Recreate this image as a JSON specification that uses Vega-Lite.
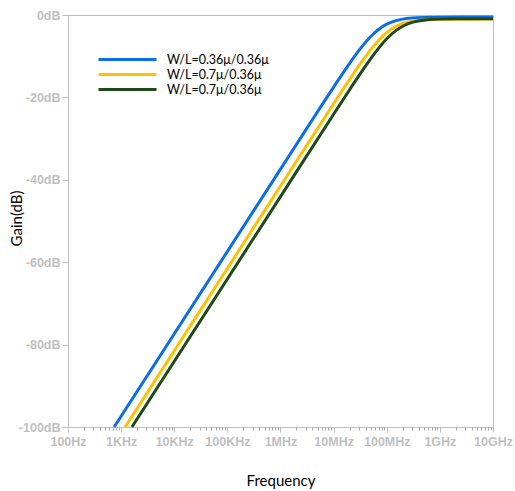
{
  "$schema": "https://vega.github.io/schema/vega-lite/v6.json",
  "width": 425,
  "height": 412,
  "autosize": {"type": "none"},
  "padding": {"left": 68, "top": 15, "right": 22, "bottom": 64},
  "background": "white",
  "config": {
    "view": {"stroke": "#BFBFBF", "strokeWidth": 1},
    "font": "Lato"
  },
  "data": {
    "values": [
      {"s": "a", "f": 740, "g": -100},
      {"s": "a", "f": 1000000, "g": -37.4},
      {"s": "a", "f": 3000000, "g": -27.87},
      {"s": "a", "f": 10000000, "g": -17.49},
      {"s": "a", "f": 20000000, "g": -11.72},
      {"s": "a", "f": 30000000, "g": -8.59},
      {"s": "a", "f": 50000000, "g": -5.21},
      {"s": "a", "f": 70000000, "g": -3.51},
      {"s": "a", "f": 100000000, "g": -2.23},
      {"s": "a", "f": 150000000, "g": -1.36},
      {"s": "a", "f": 200000000, "g": -1.0},
      {"s": "a", "f": 300000000, "g": -0.73},
      {"s": "a", "f": 500000000, "g": -0.58},
      {"s": "a", "f": 1000000000, "g": -0.52},
      {"s": "a", "f": 10000000000, "g": -0.5},
      {"s": "b", "f": 1190, "g": -100},
      {"s": "b", "f": 1000000, "g": -41.51},
      {"s": "b", "f": 10000000, "g": -21.55},
      {"s": "b", "f": 20000000, "g": -15.64},
      {"s": "b", "f": 30000000, "g": -12.3},
      {"s": "b", "f": 50000000, "g": -8.4},
      {"s": "b", "f": 70000000, "g": -6.17},
      {"s": "b", "f": 100000000, "g": -4.27},
      {"s": "b", "f": 150000000, "g": -2.76},
      {"s": "b", "f": 200000000, "g": -2.07},
      {"s": "b", "f": 300000000, "g": -1.51},
      {"s": "b", "f": 500000000, "g": -1.19},
      {"s": "b", "f": 1000000000, "g": -1.05},
      {"s": "b", "f": 10000000000, "g": -1.0},
      {"s": "c", "f": 1600, "g": -100},
      {"s": "c", "f": 1000000, "g": -44.07},
      {"s": "c", "f": 10000000, "g": -24.09},
      {"s": "c", "f": 20000000, "g": -18.13},
      {"s": "c", "f": 30000000, "g": -14.71},
      {"s": "c", "f": 50000000, "g": -10.58},
      {"s": "c", "f": 70000000, "g": -8.09},
      {"s": "c", "f": 100000000, "g": -5.78},
      {"s": "c", "f": 150000000, "g": -3.74},
      {"s": "c", "f": 200000000, "g": -2.72},
      {"s": "c", "f": 300000000, "g": -1.8},
      {"s": "c", "f": 500000000, "g": -1.25},
      {"s": "c", "f": 1000000000, "g": -0.99},
      {"s": "c", "f": 2000000000, "g": -0.92},
      {"s": "c", "f": 10000000000, "g": -0.9}
    ]
  },
  "layer": [
    {
      "mark": {"type": "line", "strokeWidth": 3, "interpolate": "monotone"},
      "encoding": {
        "x": {
          "field": "f", "type": "quantitative",
          "scale": {"type": "log", "domain": [100, 10000000000], "nice": false},
          "axis": {
            "orient": "bottom",
            "values": [100, 1000, 10000, 100000, 1000000, 10000000, 100000000, 1000000000, 10000000000],
            "labelExpr": "['100Hz','1KHz','10KHz','100KHz','1MHz','10MHz','100MHz','1GHz','10GHz'][round(log(datum.value)/LN10)-2]",
            "grid": false,
            "domainColor": "#BFBFBF",
            "tickColor": "#BFBFBF",
            "tickSize": 5,
            "labelColor": "#BFBFBF",
            "labelFont": "Liberation Sans",
            "labelFontWeight": "bold",
            "labelFontSize": 12.5,
            "labelPadding": 3,
            "labelOverlap": false,
            "labelFlush": false,
            "title": "Frequency",
            "titleFont": "Lato",
            "titleFontSize": 15,
            "titleFontWeight": "normal",
            "titleColor": "#000000",
            "titleY": 53,
            "titleBaseline": "middle"
          }
        },
        "y": {
          "field": "g", "type": "quantitative",
          "scale": {"domain": [-100, 0], "nice": false},
          "axis": {
            "orient": "left",
            "values": [0, -20, -40, -60, -80, -100],
            "labelExpr": "datum.value + 'dB'",
            "grid": false,
            "domainColor": "#BFBFBF",
            "tickColor": "#BFBFBF",
            "tickSize": 6,
            "labelColor": "#BFBFBF",
            "labelFont": "Liberation Sans",
            "labelFontWeight": "bold",
            "labelFontSize": 12.5,
            "labelPadding": 2,
            "title": "Gain(dB)",
            "titleFont": "Lato",
            "titleFontSize": 15,
            "titleFontWeight": "normal",
            "titleColor": "#000000",
            "titleX": -52,
            "titleY": 203,
            "titleBaseline": "middle",
            "titleAngle": -90
          }
        },
        "color": {
          "field": "s", "type": "nominal",
          "scale": {"domain": ["a", "b", "c"], "range": ["#0A6EE6", "#FFC000", "#1F4A17"]},
          "legend": {
            "orient": "none",
            "legendX": 29,
            "legendY": 37,
            "title": null,
            "symbolType": "stroke",
            "symbolSize": 3364,
            "symbolStrokeWidth": 3,
            "clipHeight": 15,
            "rowPadding": 0,
            "labelOffset": 9,
            "labelFont": "Lato",
            "labelFontSize": 12.5,
            "labelColor": "#000000",
            "labelExpr": "datum.label == 'a' ? 'W/L=0.36μ/0.36μ' : 'W/L=0.7μ/0.36μ'"
          }
        }
      }
    },
    {
      "mark": {"type": "line", "opacity": 0},
      "encoding": {
        "x": {
          "field": "f", "type": "quantitative",
          "axis": {
            "orient": "bottom",
            "values": [200,300,400,500,600,700,800,900,2000,3000,4000,5000,6000,7000,8000,9000,20000,30000,40000,50000,60000,70000,80000,90000,200000,300000,400000,500000,600000,700000,800000,900000,2000000,3000000,4000000,5000000,6000000,7000000,8000000,9000000,20000000,30000000,40000000,50000000,60000000,70000000,80000000,90000000,200000000,300000000,400000000,500000000,600000000,700000000,800000000,900000000,2000000000,3000000000,4000000000,5000000000,6000000000,7000000000,8000000000,9000000000],
            "labels": false,
            "domain": false,
            "grid": false,
            "tickColor": "#A6A6A6",
            "tickSize": 3,
            "title": null
          }
        },
        "y": {"field": "g", "type": "quantitative", "axis": null},
        "detail": {"field": "s"}
      }
    }
  ],
  "resolve": {"axis": {"x": "independent", "y": "independent"}}
}
